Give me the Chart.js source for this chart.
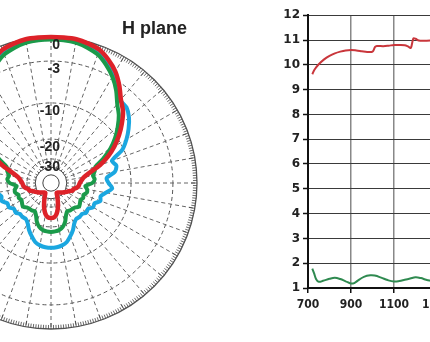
<!DOCTYPE html>
<html>
<head>
<meta charset="utf-8">
<script src="https://cdn.jsdelivr.net/npm/chart.js@4.4.1/dist/chart.umd.min.js"></script>
<style>
  html, body { margin: 0; padding: 0; background: #fff; }
  body { width: 430px; height: 342px; position: relative; overflow: hidden; }
  #polar { position: absolute; left: -103px; top: 29px; }
  #gain { position: absolute; left: 268px; top: 5px; }
  #title { position: absolute; left: 122px; top: 18px; font: bold 18px "Liberation Sans", Arial, sans-serif; color: #222; }
</style>
</head>
<body>
<canvas id="polar" width="308" height="308"></canvas>
<div id="title">H plane</div>
<canvas id="gain" width="200" height="313"></canvas>
<script>
// H plane pattern, dB, every 5 degrees clockwise from the top
const angles = [0, 5, 10, 15, 20, 25, 30, 35, 40, 45, 50, 55, 60, 65, 70, 75, 80, 85, 90, 95, 100, 105, 110, 115, 120, 125, 130, 135, 140, 145, 150, 155, 160, 165, 170, 175,
  180, 185, 190, 195, 200, 205, 210, 215, 220, 225, 230, 235, 240, 245, 250, 255, 260, 265, 270, 275, 280, 285, 290, 295, 300, 305, 310, 315, 320, 325, 330, 335, 340, 345, 350, 355];

const redDb = [0, 0, 0, -0.2, -0.5, -1.2, -2.1, -3.4, -4.9, -6.0, -7.6, -9.4, -11.5, -14.0, -17.2, -21.5, -24.5, -26, -27, -27.5, -28.5, -30.5, -31, -33.5, -35, -36.5, -38, -39.5, -41, -42, -42.5, -38, -33, -28.5, -25.5, -24,
  -23.8, -24, -25.5, -28.5, -33, -38, -42.5, -42, -41, -39.5, -38, -36.5, -35, -33.5, -31, -30.5, -28.5, -27.5, -27, -26, -24.5, -21.5, -17.2, -14.0, -11.5, -9.4, -7.6, -6.0, -4.9, -3.4, -2.1, -1.2, -0.5, -0.2, 0, 0];

const greenDb = [-0.3, -0.3, -0.4, -0.7, -1.1, -1.9, -2.9, -4.2, -5.8, -7.0, -8.6, -10.4, -12.6, -15.5, -18.8, -19.5, -20.5, -20, -21, -24, -23, -22.8, -24, -23.5, -24.2, -23.6, -23, -24, -24.5, -24.5, -25, -23.5, -21, -19.4, -18.6, -18.3,
  -18.2, -18.3, -18.6, -19.4, -21, -23.5, -25, -24.5, -24.5, -24, -23, -23.6, -24.2, -23.5, -24, -22.8, -23, -24, -21, -20, -20.5, -19.5, -18.8, -15.5, -12.6, -10.4, -8.6, -7.0, -5.8, -4.2, -2.9, -1.9, -1.1, -0.7, -0.4, -0.3];

const blueDb = [-0.2, -0.2, -0.3, -0.5, -0.8, -1.5, -2.4, -3.6, -5.0, -5.2, -6, -7.2, -8.6, -10.3, -13.5, -12.8, -13.5, -16, -15.5, -14.4, -16, -17.4, -17, -18.5, -18.3, -19.5, -19.2, -20, -19.8, -20, -19, -17.2, -15.8, -14.5, -13.9, -13.6,
  -13.5, -13.6, -13.9, -14.5, -15.8, -17.2, -19, -20, -19.8, -20, -19.2, -19.5, -18.3, -18.5, -17, -17.4, -16, -14.4, -15.5, -16, -13.5, -12.8, -13.5, -10.3, -8.6, -7.2, -6, -5.2, -5.0, -3.6, -2.4, -1.5, -0.8, -0.5, -0.3, -0.2];

const ringDb = [-30, -20, -10, -3, 0];
const hubDb = [-37, -48];

// gain (top) and VSWR (bottom) against frequency, MHz
const redFreq = [720, 730, 750, 775, 800, 825, 850, 875, 900, 925, 950, 975, 1000, 1012, 1020, 1050, 1075, 1100, 1125, 1150, 1165, 1178, 1190, 1200, 1215, 1240, 1270, 1300];
const redGain = [9.62, 9.8, 10.02, 10.22, 10.36, 10.46, 10.53, 10.58, 10.6, 10.58, 10.55, 10.52, 10.53, 10.72, 10.76, 10.75, 10.77, 10.8, 10.8, 10.79, 10.74, 10.68, 11.06, 11.05, 10.98, 10.97, 10.98, 11.0];

const greenFreq = [720, 728, 738, 750, 770, 800, 825, 850, 875, 900, 915, 935, 960, 990, 1010, 1040, 1070, 1100, 1125, 1150, 1175, 1200, 1225, 1250, 1275, 1300];
const greenVswr = [1.78, 1.6, 1.35, 1.25, 1.29, 1.37, 1.41, 1.36, 1.27, 1.18, 1.2, 1.32, 1.45, 1.51, 1.5, 1.42, 1.32, 1.26, 1.28, 1.33, 1.38, 1.43, 1.4, 1.33, 1.29, 1.3];

const yTicks = [1, 12];
const xTicks = [700, 1300];

// radial scale with a log-compressed dB axis
const DB_K = 0.0601;
class DbRadialScale extends Chart.RadialLinearScale {
  getDistanceFromCenterForValue(value) {
    if (value === null || isNaN(value)) return NaN;
    return this.drawingArea * Math.exp(DB_K * (value - this.max));
  }
}
DbRadialScale.id = 'dbRadial';
Chart.register(DbRadialScale);

const polarDecor = {
  id: 'polarDecor',
  beforeDatasetsDraw(chart) {
    const s = chart.scales.r;
    const ctx = chart.ctx;
    const cx = s.xCenter, cy = s.yCenter;
    ctx.save();
    // white hub and its two rings
    ctx.fillStyle = '#fff';
    ctx.beginPath();
    ctx.arc(cx, cy, s.getDistanceFromCenterForValue(hubDb[0]), 0, Math.PI * 2);
    ctx.fill();
    ctx.strokeStyle = '#444';
    ctx.lineWidth = 1;
    hubDb.forEach(v => {
      ctx.beginPath();
      ctx.arc(cx, cy, s.getDistanceFromCenterForValue(v), 0, Math.PI * 2);
      ctx.stroke();
    });
    // degree marks on the rim
    const R = s.drawingArea;
    ctx.lineWidth = 0.8;
    for (let a = 0; a < 360; a++) {
      const t = a * Math.PI / 180;
      const len = a % 10 === 0 ? 6 : 4;
      ctx.beginPath();
      ctx.moveTo(cx + Math.sin(t) * R, cy - Math.cos(t) * R);
      ctx.lineTo(cx + Math.sin(t) * (R - len), cy - Math.cos(t) * (R - len));
      ctx.stroke();
    }
    ctx.restore();
  },
  afterDatasetsDraw(chart) {
    const s = chart.scales.r;
    const ctx = chart.ctx;
    // ring labels, just inside each ring
    ctx.save();
    ctx.fillStyle = '#222';
    ctx.font = 'bold 14px "Liberation Sans", Arial, sans-serif';
    ctx.textAlign = 'right';
    ctx.textBaseline = 'middle';
    ringDb.forEach(v => {
      ctx.fillText(String(v), s.xCenter + 9, s.yCenter - s.getDistanceFromCenterForValue(v) + 8);
    });
    ctx.restore();
  }
};

new Chart(document.getElementById('polar'), {
  type: 'radar',
  data: {
    labels: angles.map(a => a + '°'),
    datasets: [
      { label: 'red', data: redDb, borderColor: '#dd2229', borderWidth: 4.5, fill: false, order: 0 },
      { label: 'green', data: greenDb, borderColor: '#1b9a4a', borderWidth: 4, fill: false, order: 1 },
      { label: 'blue', data: blueDb, borderColor: '#1ba7e0', borderWidth: 4, fill: false, order: 2 }
    ]
  },
  options: {
    responsive: false,
    animation: false,
    events: [],
    layout: { padding: 8 },
    elements: {
      point: { radius: 0 },
      line: { tension: 0.25, borderJoinStyle: 'round' }
    },
    plugins: { legend: { display: false }, tooltip: { enabled: false } },
    scales: {
      r: {
        type: 'dbRadial',
        min: -60,
        max: 0,
        afterBuildTicks: (scale) => {
          scale.ticks = ringDb.map(v => ({ value: v }));
        },
        ticks: { display: false },
        pointLabels: { display: false },
        grid: {
          circular: true,
          color: '#555',
          lineWidth: (c) => (c.tick && c.tick.value === 0 ? 1.3 : 1)
        },
        border: {
          dash: (c) => (c.tick && c.tick.value === 0 ? [] : [4, 3])
        },
        angleLines: {
          color: '#666',
          lineWidth: (c) => (c.index % 2 === 0 ? 1 : 0),
          borderDash: [4, 3]
        }
      }
    }
  },
  plugins: [polarDecor]
});

new Chart(document.getElementById('gain'), {
  type: 'line',
  data: {
    datasets: [
      {
        label: 'Gain',
        data: redFreq.map((f, i) => ({ x: f, y: redGain[i] })),
        borderColor: '#c9363b',
        borderWidth: 2,
        tension: 0.35
      },
      {
        label: 'VSWR',
        data: greenFreq.map((f, i) => ({ x: f, y: greenVswr[i] })),
        borderColor: '#2f8a50',
        borderWidth: 2,
        tension: 0.4
      }
    ]
  },
  options: {
    responsive: false,
    animation: false,
    events: [],
    layout: { padding: { left: 0, top: 8, right: 31, bottom: 0 } },
    elements: { point: { radius: 0 } },
    plugins: { legend: { display: false }, tooltip: { enabled: false } },
    scales: {
      x: {
        type: 'linear',
        min: xTicks[0],
        max: xTicks[1],
        afterFit: (scale) => { scale.height = 30; },
        ticks: {
          stepSize: 200,
          color: '#222',
          padding: 5,
          maxRotation: 0,
          callback: (v) => String(v),
          font: { family: '"DejaVu Sans Condensed", "DejaVu Sans", sans-serif', size: 12, weight: 'bold' }
        },
        grid: { color: '#888', lineWidth: 1.5, tickLength: 5, tickColor: '#111', tickWidth: 1.5 },
        border: { color: '#111', width: 2 }
      },
      y: {
        min: yTicks[0],
        max: yTicks[1],
        afterFit: (scale) => { scale.width = 40; },
        ticks: {
          stepSize: 1,
          color: '#222',
          padding: 3,
          font: { family: '"DejaVu Sans", sans-serif', size: 12, weight: 'bold' }
        },
        grid: { color: '#3a3a3a', lineWidth: 1, tickLength: 5, tickColor: '#111', tickWidth: 1.5 },
        border: { color: '#111', width: 2 }
      }
    }
  }
});
</script>
</body>
</html>
